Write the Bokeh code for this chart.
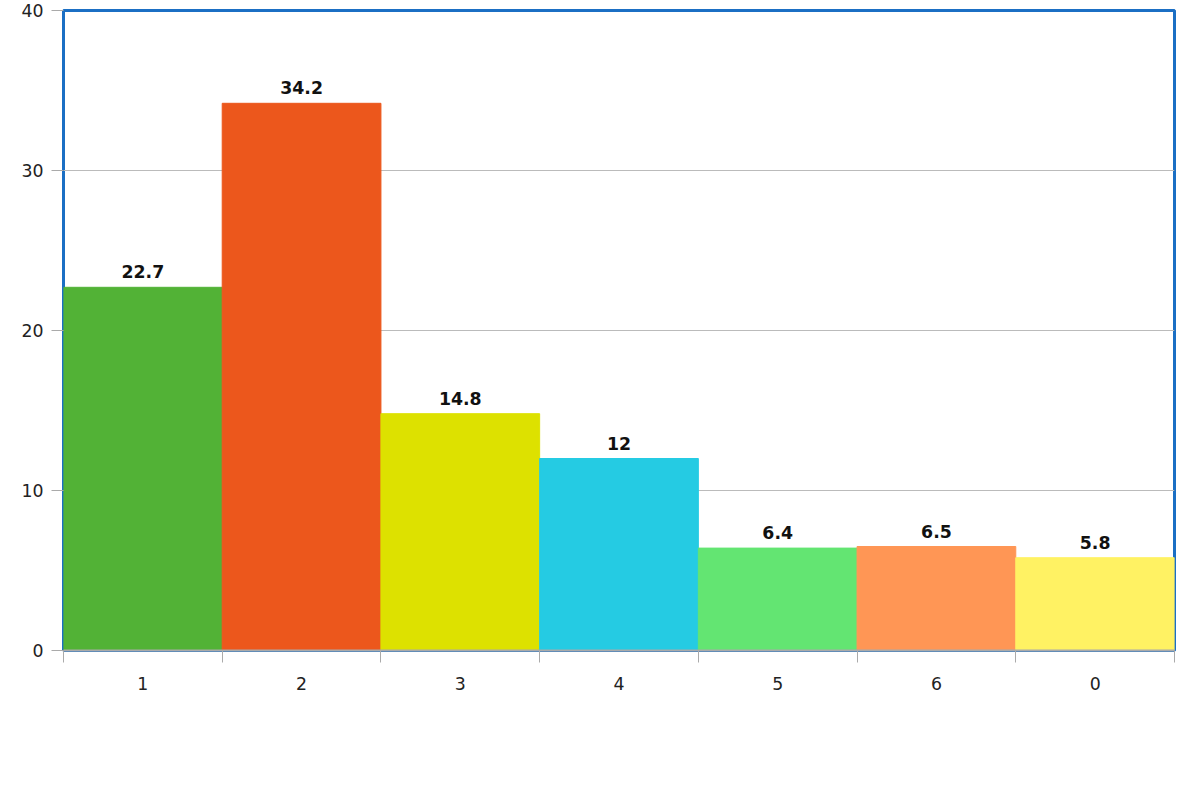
from bokeh.core.properties import value
from bokeh.embed import file_html
from bokeh.models import ColumnDataSource, FixedTicker, Legend, LegendItem, Range1d
from bokeh.plotting import figure
from bokeh.resources import INLINE

categories = ["1", "2", "3", "4", "5", "6", "0"]
values = [22.7, 34.2, 14.8, 12, 6.4, 6.5, 5.8]
labels = ["22.7", "34.2", "14.8", "12", "6.4", "6.5", "5.8"]
colors = ["#52b236", "#ec571c", "#dde100", "#25cbe3", "#63e572", "#ff9655", "#fff263"]
legend_text = "DTMF , 1:Fatura, 2:Tarife, 3:Kampanyalar, 4:Yeni Paketler, 5:OTA, 6:Kayıp Çalıntı, 0:Mt Transfer"

centers = [i + 0.5 for i in range(len(categories))]
source = ColumnDataSource(data=dict(x=centers, top=values, color=colors, label=labels))

p = figure(frame_width=1111, frame_height=640, output_backend="svg", toolbar_location=None,
           x_range=Range1d(0, 7), y_range=Range1d(0, 40),
           min_border_left=63, min_border_right=10, min_border_top=10, min_border_bottom=10)
p.outline_line_color = "#1b6fc4"
p.outline_line_width = 3
p.outline_line_alpha = 1

p.vbar(x="x", top="top", width=1, color="color", source=source)
p.text(x="x", y="top", text="label", source=source, text_align="center",
       text_baseline="bottom", y_offset=-9, text_font=value("DejaVu Sans"),
       text_font_style="bold", text_font_size="13pt", text_color="#111111")

p.xgrid.visible = False
p.ygrid.grid_line_color = "#bbbbbb"
p.ygrid.ticker = FixedTicker(ticks=[10, 20, 30, 40])

p.xaxis.ticker = FixedTicker(ticks=centers, minor_ticks=list(range(8)))
p.xaxis.major_label_overrides = {c: lab for c, lab in zip(centers, categories)}
p.xaxis.major_tick_out = 0
p.xaxis.major_tick_in = 0
p.xaxis.minor_tick_out = 12
p.xaxis.minor_tick_in = 0
p.xaxis.minor_tick_line_color = "#aaaaaa"
p.xaxis.axis_line_color = "#aaaaaa"
p.xaxis.axis_line_width = 2
p.xaxis.major_label_standoff = 14

p.yaxis.ticker = FixedTicker(ticks=[0, 10, 20, 30, 40])
p.yaxis.minor_tick_line_color = None
p.yaxis.major_tick_out = 12
p.yaxis.major_tick_in = 0
p.yaxis.major_tick_line_color = "#aaaaaa"
p.yaxis.axis_line_color = None
p.yaxis.major_label_standoff = 8

for ax in (p.xaxis, p.yaxis):
    ax.major_label_text_font = "DejaVu Sans"
    ax.major_label_text_font_size = "13pt"
    ax.major_label_text_color = "#222222"

dummy = p.quad(left=[-10], right=[-9], bottom=[-10], top=[-9], color="#cccccc")
legend = Legend(items=[LegendItem(label=legend_text, renderers=[dummy])],
                location="top_left", border_line_color=None,
                label_text_font="DejaVu Sans", label_text_font_size="15pt",
                label_text_color="#222222", glyph_width=32, glyph_height=26,
                margin=0, padding=0, label_standoff=8)
p.add_layout(legend, "below")
p.below[-1:]  # legend sits after the x axis

open("out.html", "w").write(file_html(p, INLINE))
